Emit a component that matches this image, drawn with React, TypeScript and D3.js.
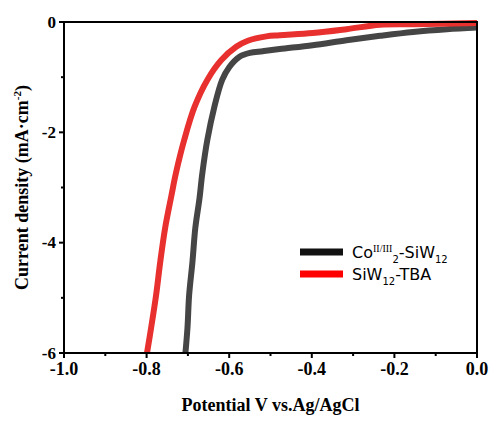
import React from "react";
import * as d3 from "d3";

const redV = [-0.799, -0.789, -0.777, -0.767, -0.755, -0.740, -0.729, -0.709, -0.684, -0.653, -0.619, -0.583, -0.555, -0.51, -0.478, -0.398, -0.316, -0.235, -0.155, 0];
const redJ = [-6.0, -5.54, -4.95, -4.35, -3.73, -3.15, -2.74, -2.14, -1.54, -1.05, -0.69, -0.45, -0.34, -0.26, -0.24, -0.2, -0.13, -0.05, -0.04, -0.02];
const blackV = [-0.706, -0.701, -0.697, -0.689, -0.682, -0.672, -0.665, -0.653, -0.636, -0.617, -0.600, -0.575, -0.55, -0.519, -0.478, -0.398, -0.316, -0.235, -0.155, -0.073, 0];
const blackJ = [-6.0, -5.54, -4.95, -4.35, -3.73, -3.2, -2.74, -2.14, -1.54, -1.05, -0.82, -0.63, -0.56, -0.53, -0.49, -0.42, -0.33, -0.25, -0.18, -0.13, -0.1];
const xTicks = [-1.0, -0.8, -0.6, -0.4, -0.2, 0.0];
const xMinor = [-0.9, -0.7, -0.5, -0.3, -0.1];
const yTicks = [0, -2, -4, -6];
const yMinor = [-1, -3, -5];

const W = 492, H = 421;
const L = 64, T = 22, R = 477, B = 353;

export default function App() {
  const x = d3.scaleLinear().domain([-1, 0]).range([L, R]);
  const y = d3.scaleLinear().domain([-6, 0]).range([B, T]);
  const line = d3.line<[number, number]>().x(d => x(d[0])).y(d => y(d[1])).curve(d3.curveCatmullRom.alpha(0.5));
  const redPts = redV.map((v, i) => [v, redJ[i]] as [number, number]);
  const blackPts = blackV.map((v, i) => [v, blackJ[i]] as [number, number]);
  const serif = "'Liberation Serif', 'Times New Roman', serif";
  return (
    <svg width={W} height={H} style={{ position: "absolute", left: 0, top: 0 }}>
      <rect width={W} height={H} fill="#fff" />
      <defs>
        <clipPath id="plot"><rect x={L} y={T - 2} width={R - L} height={B - T + 2} /></clipPath>
      </defs>
      <g clipPath="url(#plot)">
        <path d={line(blackPts) || ""} fill="none" stroke="#454545" strokeWidth={6} />
        <path d={line(redPts) || ""} fill="none" stroke="#e8302e" strokeWidth={6} />
      </g>
      <rect x={L} y={T} width={R - L} height={B - T} fill="none" stroke="#000" strokeWidth={2} />
      {xTicks.map(t => (
        <g key={"xt" + t}>
          <line x1={x(t)} x2={x(t)} y1={B} y2={B + 5} stroke="#000" strokeWidth={2} />
          <text x={x(t)} y={375} textAnchor="middle" fontFamily={serif} fontWeight="bold" fontSize={18}>{t.toFixed(1).replace("-0.0", "0.0")}</text>
        </g>
      ))}
      {xMinor.map(t => (
        <line key={"xm" + t} x1={x(t)} x2={x(t)} y1={B} y2={B + 3} stroke="#000" strokeWidth={2} />
      ))}
      {yTicks.map(t => (
        <g key={"yt" + t}>
          <line x1={L - 5} x2={L} y1={y(t)} y2={y(t)} stroke="#000" strokeWidth={2} />
          <text x={56} y={y(t)} dy="0.33em" textAnchor="end" fontFamily={serif} fontWeight="bold" fontSize={17}>{t === 0 ? "0" : String(t)}</text>
        </g>
      ))}
      {yMinor.map(t => (
        <line key={"ym" + t} x1={L - 3} x2={L} y1={y(t)} y2={y(t)} stroke="#000" strokeWidth={2} />
      ))}
      <text x={(L + R) / 2} y={411} textAnchor="middle" fontFamily={serif} fontWeight="bold" fontSize={18}>Potential V vs.Ag/AgCl</text>
      <text transform={`translate(28, ${(T + B) / 2}) rotate(-90)`} textAnchor="middle" fontFamily={serif} fontWeight="bold" fontSize={18}>
        Current density (mA·cm<tspan dy="-7" fontSize={11}>-2</tspan><tspan dy="7">)</tspan>
      </text>
      <g fontFamily="'DejaVu Sans', sans-serif" fontSize={16}>
        <line x1={300} x2={343} y1={252} y2={252} stroke="#111" strokeWidth={7} />
        <text x={352} y={258}>Co<tspan dy="-6" fontSize={10} fontFamily={serif}>II/III</tspan><tspan dy="11" fontSize={10}>2</tspan><tspan dy="-5">-SiW</tspan><tspan dy="5" fontSize={10}>12</tspan></text>
        <line x1={300} x2={343} y1={274} y2={274} stroke="#f00" strokeWidth={7} />
        <text x={352} y={280}>SiW<tspan dy="5" fontSize={10}>12</tspan><tspan dy="-5">-TBA</tspan></text>
      </g>
    </svg>
  );
}
